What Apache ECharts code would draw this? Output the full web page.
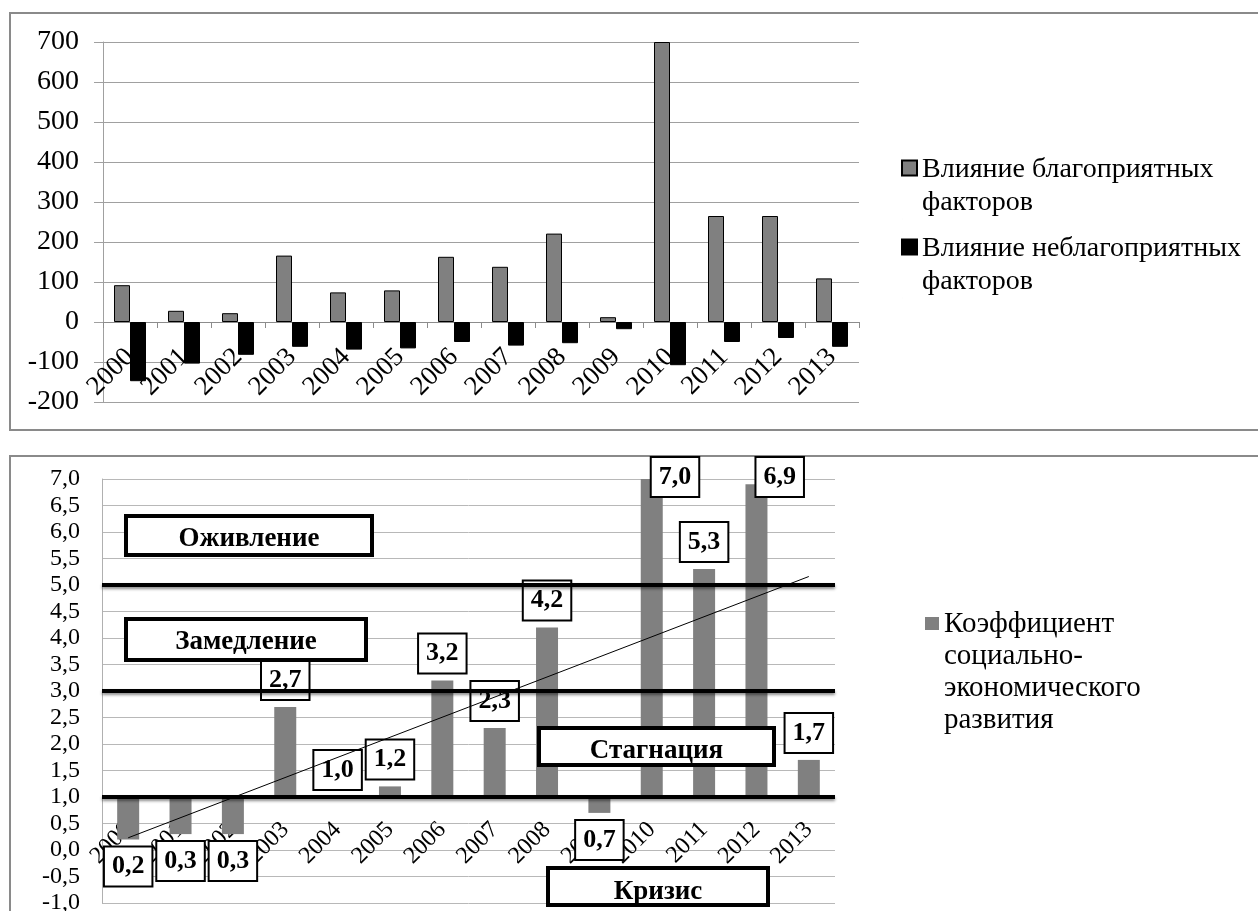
<!DOCTYPE html>
<html>
<head>
<meta charset="utf-8">
<script src="https://cdn.jsdelivr.net/npm/echarts@6/dist/echarts.min.js"></script>
<style>
  html, body { margin: 0; padding: 0; background: #fff; }
  #chart { width: 1258px; height: 911px; }
</style>
</head>
<body>
<div id="chart"></div>
<script>
// ---------- data ----------
const years = ['2000','2001','2002','2003','2004','2005','2006','2007','2008','2009','2010','2011','2012','2013'];
const favorable = [92, 28, 22, 166, 74, 79, 163, 138, 221, 12, 700, 265, 265, 109];
const unfavorable = [-148, -104, -82, -62, -69, -66, -50, -59, -53, -18, -108, -50, -40, -62];
const coef = [0.2, 0.3, 0.3, 2.7, 1.0, 1.2, 3.2, 2.3, 4.2, 0.7, 7.0, 5.3, 6.9, 1.7];
const thresholds = [1, 3, 5];
const trendEnds = [0.23, 5.16];
const crossValue = 1; // horizontal axis crosses the value axis at 1,0
const phaseNames = ['Оживление', 'Замедление', 'Стагнация', 'Кризис'];
const seriesNames = ['Влияние благоприятных факторов', 'Влияние неблагоприятных факторов',
                     'Коэффициент социально-экономического развития'];

const FONT = 'Liberation Serif';
const fmt = v => v.toFixed(1).replace('.', ',');

const chart = echarts.init(document.getElementById('chart'), null, {renderer: 'canvas'});

function phaseBox(name, x, y, w, h, ty) {
  return {
    type: 'group', zlevel: 1, z: 100,
    children: [
      {type: 'rect', shape: {x: x, y: y, width: w, height: h}, zlevel: 1,
       style: {fill: '#fff', stroke: '#000', lineWidth: 4}, z: 100},
      {type: 'text', x: x + w / 2, y: ty, z: 101, zlevel: 1,
       style: {text: name, fill: '#000', font: 'bold 27px "' + FONT + '"', align: 'center', verticalAlign: 'middle'}}
    ]
  };
}

const option = {
  animation: false,
  backgroundColor: '#fff',
  textStyle: {fontFamily: FONT, color: '#000'},
  graphic: [
    {type: 'rect', z: -10, shape: {x: 10, y: 13, width: 1300, height: 417},
     style: {fill: 'none', stroke: '#8a8a8a', lineWidth: 2}},
    {type: 'rect', z: -10, shape: {x: 10, y: 456, width: 1300, height: 500},
     style: {fill: 'none', stroke: '#8a8a8a', lineWidth: 2}},
    phaseBox(phaseNames[0], 126, 516, 246, 39, 539),
    phaseBox(phaseNames[1], 126, 619, 240, 41, 642),
    phaseBox(phaseNames[2], 539, 728, 235, 37, 751),
    phaseBox(phaseNames[3], 548, 868, 220, 37, 892)
  ],
  legend: [
    {
      data: [seriesNames[0], seriesNames[1]],
      orient: 'vertical', left: 901, top: 152, padding: 0,
      itemWidth: 15, itemHeight: 66, itemGap: 11,
      icon: 'path://M0,0h0.01M0,7.5h15v15h-15zM0,66h0.01',
      formatter: n => n.replace(' факторов', '\nфакторов'),
      textStyle: {fontFamily: FONT, fontSize: 28, lineHeight: 33, color: '#000'}
    },
    {
      data: [seriesNames[2]],
      orient: 'vertical', left: 925, top: 608, padding: 0,
      itemWidth: 14, itemHeight: 128, itemGap: 0,
      icon: 'path://M0,0h0.01M0,9h14v13h-14zM0,128h0.01',
      formatter: () => 'Коэффициент\nсоциально-\nэкономического\nразвития',
      textStyle: {fontFamily: FONT, fontSize: 29, lineHeight: 32, color: '#000'}
    }
  ],
  grid: [
    {left: 103, top: 42, width: 756, height: 360, containLabel: false, outerBoundsMode: 'none'},
    {left: 102, top: 479, width: 733, height: 424, containLabel: false, outerBoundsMode: 'none'}
  ],
  xAxis: [
    {
      type: 'category', gridIndex: 0, data: years,
      axisLine: {onZero: false, lineStyle: {color: '#8c8c8c', width: 1}},
      axisTick: {show: true, length: 6, lineStyle: {color: '#8c8c8c'}},
      axisLabel: {rotate: 45, interval: 0, margin: 31, fontSize: 27, fontFamily: FONT, color: '#000'},
      splitLine: {show: false}
    },
    {
      type: 'category', gridIndex: 1, data: years,
      axisLine: {show: false, onZero: false},
      axisTick: {show: false},
      axisLabel: {rotate: 45, interval: 0, margin: 29, fontSize: 24, fontFamily: FONT, color: '#000'},
      splitLine: {show: false}
    }
  ],
  yAxis: [
    {
      type: 'value', gridIndex: 0, min: -200, max: 700, interval: 100,
      axisLine: {show: true, lineStyle: {color: '#a0a0a0'}},
      axisTick: {show: true, length: 9, lineStyle: {color: '#a0a0a0'}},
      axisLabel: {margin: 24, fontSize: 28, fontFamily: FONT, color: '#000',
                  showMinLabel: true, showMaxLabel: true},
      splitLine: {lineStyle: {color: '#a0a0a0', width: 1}}
    },
    {
      type: 'value', gridIndex: 1, min: -2, max: 6, interval: 0.5,
      axisLine: {show: true, lineStyle: {color: '#b0b0b0'}},
      axisTick: {show: false},
      axisLabel: {margin: 22, fontSize: 24, fontFamily: FONT, color: '#000',
                  showMinLabel: true, showMaxLabel: true,
                  formatter: v => fmt(v + crossValue)},
      splitLine: {lineStyle: {color: '#b8b8b8', width: 1}}
    }
  ],
  series: [
    {
      name: seriesNames[0], type: 'bar', xAxisIndex: 0, yAxisIndex: 0,
      data: favorable, barWidth: 16, barGap: '0%',
      itemStyle: {color: '#808080', borderColor: '#000', borderWidth: 1}
    },
    {
      name: seriesNames[1], type: 'bar', xAxisIndex: 0, yAxisIndex: 0,
      data: unfavorable, barWidth: 16, barGap: '0%',
      itemStyle: {color: '#000', borderColor: '#000', borderWidth: 1}
    },
    {
      name: seriesNames[2], type: 'bar', xAxisIndex: 1, yAxisIndex: 1,
      barWidth: 22, z: 2,
      itemStyle: {color: '#808080'},
      data: coef.map(v => ({
        value: +(v - crossValue).toFixed(3),
        label: {position: v >= crossValue ? 'top' : 'bottom'}
      })),
      label: {
        show: true, distance: 8,
        formatter: p => fmt(coef[p.dataIndex]),
        fontFamily: FONT, fontSize: 26, fontWeight: 'bold', color: '#000',
        backgroundColor: '#fff', borderColor: '#000', borderWidth: 2,
        padding: [4, 7, 4, 7], lineHeight: 30
      },
      labelLayout: p => {
        const limit = 458;
        if (p.labelRect.y < limit) {
          return {y: limit};
        }
        return {};
      }
    },
    {
      name: 'trend', type: 'line', xAxisIndex: 1, yAxisIndex: 1, zlevel: 1, z: 5,
      symbol: 'none', silent: true,
      lineStyle: {color: '#000', width: 1},
      data: [[years[0], trendEnds[0] - crossValue], [years[years.length - 1], trendEnds[1] - crossValue]],
      markLine: {
        symbol: 'none', silent: true, z: 6,
        label: {show: false},
        lineStyle: {color: '#000', width: 4, type: 'solid',
                    shadowBlur: 3, shadowColor: 'rgba(0,0,0,0.45)', shadowOffsetY: 2},
        data: thresholds.map(t => ({yAxis: t - crossValue}))
      }
    }
  ]
};

chart.setOption(option);

// place each category axis where it crosses its value axis (0 on top, 1,0 below)
const topZero = chart.convertToPixel({yAxisIndex: 0}, 0);
const topBottom = chart.convertToPixel({yAxisIndex: 0}, -200);
const botCross = chart.convertToPixel({yAxisIndex: 1}, 0);
const botBottom = chart.convertToPixel({yAxisIndex: 1}, -2);
chart.setOption({
  xAxis: [
    {offset: topZero - topBottom},
    {offset: botCross - botBottom}
  ]
});
</script>
</body>
</html>
